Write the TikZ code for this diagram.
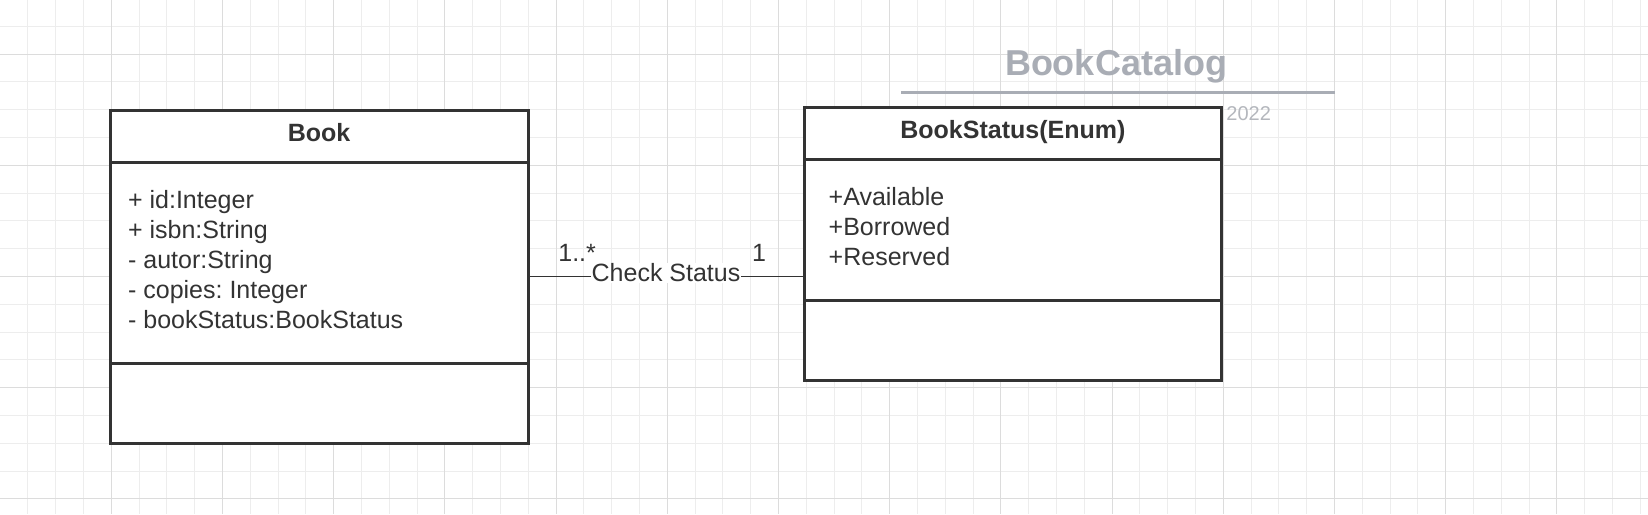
\documentclass[tikz,border=0pt]{standalone}
\usepackage{fontspec}
\setmainfont{Liberation Sans}
\usetikzlibrary{positioning}
\definecolor{umlline}{HTML}{333333}
\definecolor{titlegray}{HTML}{A9ADB5}
\definecolor{yeargray}{HTML}{B4B7BD}
\definecolor{gridminor}{HTML}{EDEDED}
\definecolor{gridmajor}{HTML}{DCDCDC}
\frenchspacing

\begin{document}
\begin{tikzpicture}[x=0.5pt,y=-0.5pt,
  compart/.style={draw=umlline,line width=1.5pt,fill=white,inner sep=0pt,outer sep=0pt,anchor=north west},
  classname/.style={font=\fontsize{12.5}{15}\selectfont\bfseries,text=umlline,text height=9pt,text depth=3.7pt},
  members/.style={font=\fontsize{12.5}{15}\selectfont,text=umlline,align=left,anchor=base west,inner sep=0pt},
  mult/.style={font=\fontsize{12.5}{15}\selectfont,text=umlline,anchor=base,inner sep=0pt,yshift=7.85pt},
  linklabel/.style={font=\fontsize{12.5}{15}\selectfont,text=umlline,fill=white,anchor=base,inner sep=0.5pt,yshift=-2.5pt},
  assoc/.style={draw=umlline,line width=0.6pt}]
\useasboundingbox (0,0) rectangle (1648,514);
\fill[white] (0,0) rectangle (1648,514);

% grid
\foreach \i in {1,...,59} \draw[gridminor,line width=0.5pt] (27.8*\i,0) -- (27.8*\i,514);
\foreach \j in {1,...,18} \draw[gridminor,line width=0.5pt] (0,-1.6+27.8*\j) -- (1648,-1.6+27.8*\j);
\foreach \i in {1,...,14} \draw[gridmajor,line width=0.5pt] (111.2*\i,0) -- (111.2*\i,514);
\foreach \j in {0,...,4} \draw[gridmajor,line width=0.5pt] (0,54+111.2*\j) -- (1648,54+111.2*\j);

% title
\node (catalog) [font=\fontsize{18}{21}\selectfont\bfseries,text=titlegray,anchor=base,inner sep=0pt] at (1116,75) {BookCatalog};
\coordinate (ruleL) at (901,92);
\coordinate (ruleR) at (1335,92);
\draw[titlegray,line width=1.5pt] (ruleL) -- (ruleR);
\node (year) [font=\fontsize{10}{12}\selectfont,text=yeargray,anchor=base west,inner sep=0pt] at (1226,120.7) {2022};

% class Book
\node (bookName) [compart,classname,minimum width=209pt,minimum height=26pt] at (110,110) {Book};
\node (bookAttrs) [compart,minimum width=209pt,minimum height=100.65pt,below=0pt of bookName] {};
\node (bookOps) [compart,minimum width=209pt,minimum height=40pt,below=0pt of bookAttrs] {};
% base of last line
\node (bookAttrText) [members] at (127.7,328.3) {+ id:Integer\\+ isbn:String\\- autor:String\\- copies: Integer\\- bookStatus:BookStatus};

% enum BookStatus
\node (statusName) [compart,classname,minimum width=208.85pt,minimum height=25.85pt] at (804,107.3) {BookStatus(Enum)};
\node (statusAttrs) [compart,minimum width=208.85pt,minimum height=70.65pt,below=0pt of statusName] {};
\node (statusOps) [compart,minimum width=208.85pt,minimum height=40.2pt,below=0pt of statusAttrs] {};
\node (statusText) [members] at (828.3,265) {+Available\\+Borrowed\\+Reserved};

% association
\coordinate (linkY) at (0,276.7);
\draw[assoc] (bookAttrs.east |- linkY) -- node[mult,pos=0.178]{1..*} node[linklabel]{Check Status} node[mult,pos=0.837]{1} (statusAttrs.west |- linkY);
\end{tikzpicture}
\end{document}
